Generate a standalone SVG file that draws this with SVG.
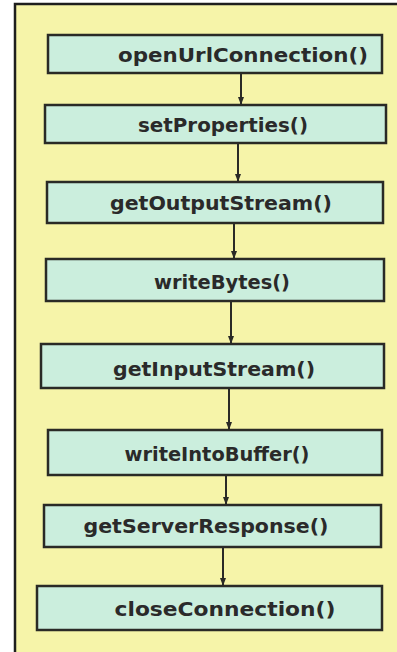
<svg xmlns="http://www.w3.org/2000/svg" width="397" height="652" viewBox="0 0 397 652">
<defs>
<style>
.bg{fill:#F6F4A9}
.box{fill:#CBEEDD;stroke:#2A2A26;stroke-width:2.5}
.lbl{font-family:"DejaVu Sans","Liberation Sans",sans-serif;font-weight:bold;font-size:20px;fill:#2A2A2A;text-anchor:middle}
.con{stroke:#2A2A26;stroke-width:2;fill:none}
</style>
<marker id="ah" markerWidth="8" markerHeight="6" refX="7" refY="3" orient="auto" markerUnits="userSpaceOnUse">
<path d="M0,0 L8,3 L0,6 Z" fill="#2A2A26"/>
</marker>
</defs>
<rect class="bg" x="14" y="4" width="383" height="648"/>
<path d="M15,652 L15,4 L397,4" fill="none" stroke="#1E1E1E" stroke-width="2.5"/>
<g id="n1"><rect class="box" x="48" y="35" width="334" height="38"/><text class="lbl" x="243" y="62" textLength="250" lengthAdjust="spacingAndGlyphs">openUrlConnection()</text></g>
<g id="n2"><rect class="box" x="45" y="105" width="341" height="38"/><text class="lbl" x="223" y="132" textLength="170" lengthAdjust="spacingAndGlyphs">setProperties()</text></g>
<g id="n3"><rect class="box" x="47" y="182" width="336" height="41"/><text class="lbl" x="221" y="210" textLength="222" lengthAdjust="spacingAndGlyphs">getOutputStream()</text></g>
<g id="n4"><rect class="box" x="46" y="259" width="338" height="42"/><text class="lbl" x="222" y="289" textLength="136" lengthAdjust="spacingAndGlyphs">writeBytes()</text></g>
<g id="n5"><rect class="box" x="41" y="344" width="343" height="44"/><text class="lbl" x="214" y="376" textLength="202" lengthAdjust="spacingAndGlyphs">getInputStream()</text></g>
<g id="n6"><rect class="box" x="48" y="430" width="334" height="45"/><text class="lbl" x="217" y="461" textLength="185" lengthAdjust="spacingAndGlyphs">writeIntoBuffer()</text></g>
<g id="n7"><rect class="box" x="44" y="505" width="337" height="42"/><text class="lbl" x="206" y="533" textLength="245" lengthAdjust="spacingAndGlyphs">getServerResponse()</text></g>
<g id="n8"><rect class="box" x="37" y="586" width="345" height="44"/><text class="lbl" x="225" y="616" textLength="221" lengthAdjust="spacingAndGlyphs">closeConnection()</text></g>
<g id="connectors">
<line class="con" x1="241" y1="73" x2="241" y2="104" marker-end="url(#ah)"/>
<line class="con" x1="238" y1="143" x2="238" y2="181" marker-end="url(#ah)"/>
<line class="con" x1="234" y1="223" x2="234" y2="258" marker-end="url(#ah)"/>
<line class="con" x1="231" y1="301" x2="231" y2="343" marker-end="url(#ah)"/>
<line class="con" x1="229" y1="388" x2="229" y2="429" marker-end="url(#ah)"/>
<line class="con" x1="226" y1="475" x2="226" y2="504" marker-end="url(#ah)"/>
<line class="con" x1="223" y1="547" x2="223" y2="585" marker-end="url(#ah)"/>
</g>
</svg>
